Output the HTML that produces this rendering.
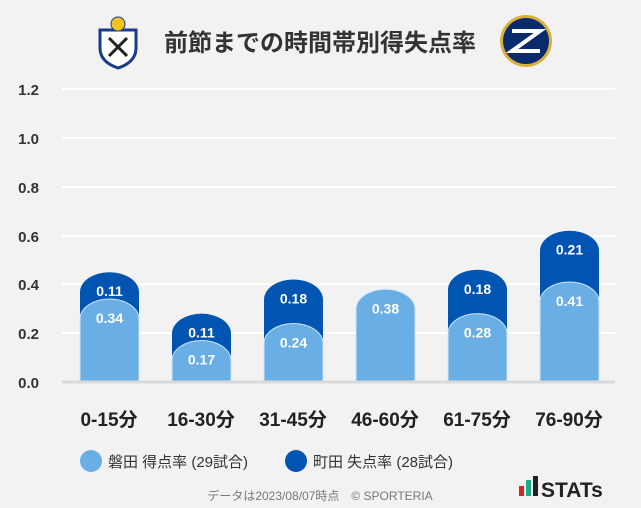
<!DOCTYPE html>
<html><head><meta charset="utf-8"><style>
html,body{margin:0;padding:0;background:#f2f2f2;}
svg{display:block;font-family:"Liberation Sans","Noto Sans CJK JP",sans-serif;}
</style></head><body>
<svg width="641" height="508" viewBox="0 0 641 508">
<rect width="641" height="508" fill="#f2f2f2"/>
<g stroke="#fff" stroke-width="2">
<line x1="62" x2="615" y1="89" y2="89"/>
<line x1="62" x2="615" y1="138" y2="138"/>
<line x1="62" x2="615" y1="187" y2="187"/>
<line x1="62" x2="615" y1="236" y2="236"/>
<line x1="62" x2="615" y1="284" y2="284"/>
<line x1="62" x2="615" y1="333" y2="333"/>
</g>
<g font-size="15" font-weight="bold" fill="#333" text-anchor="end">
<text x="39" y="95">1.2</text><text x="39" y="144">1.0</text><text x="39" y="193">0.8</text>
<text x="39" y="242">0.6</text><text x="39" y="290">0.4</text><text x="39" y="339">0.2</text><text x="39" y="388">0.0</text>
</g>
<g id="bars"></g>
<line x1="62" x2="615" y1="382" y2="382" stroke="#d9d9d9" stroke-width="3"/>
<g font-size="19" font-weight="bold" fill="#222" text-anchor="middle">
<text x="109" y="426">0-15分</text><text x="201" y="426">16-30分</text><text x="293" y="426">31-45分</text>
<text x="385" y="426">46-60分</text><text x="477" y="426">61-75分</text><text x="569" y="426">76-90分</text>
</g>
<circle cx="91" cy="461" r="11" fill="#6aaee6"/>
<text x="108" y="467" font-size="15" fill="#333">磐田 得点率 (29試合)</text>
<circle cx="296" cy="461" r="11" fill="#0055b3"/>
<text x="313" y="467" font-size="15" fill="#333">町田 失点率 (28試合)</text>
<text x="320" y="500" font-size="12" fill="#777" text-anchor="middle">データは2023/08/07時点　© SPORTERIA</text>
<rect x="519" y="486" width="5" height="10" fill="#d22"/><rect x="526" y="480" width="5" height="16" fill="#2a8"/><rect x="533" y="476" width="5" height="20" fill="#222"/>
<text x="541" y="497" font-size="21" font-weight="bold" fill="#222">STATs</text>
<text x="320" y="51" font-size="24" font-weight="bold" fill="#333" text-anchor="middle">前節までの時間帯別得失点率</text>
<g transform="translate(118,42)">
<path d="M-18,-12 L18,-12 L18,6 Q18,20 0,26 Q-18,20 -18,6Z" fill="#fff" stroke="#1b3a8a" stroke-width="3"/>
<circle cx="0" cy="-18" r="7" fill="#f0c419" stroke="#1b3a8a"/>
<path d="M-9,-4 L9,14 M9,-4 L-9,14" stroke="#222" stroke-width="3"/>
</g>
<g transform="translate(526,41)">
<circle r="26" fill="#d9b13a"/><circle r="23" fill="#0a2a6e"/>
<path d="M-14,-10 L14,-10 L-14,10 L14,10" stroke="#fff" stroke-width="4" fill="none"/>
</g>
</svg>
<script>
var d=[[0.34,0.11],[0.17,0.11],[0.24,0.18],[0.38,0],[0.28,0.18],[0.41,0.21]];
var g=document.getElementById('bars'),s='';
function p(x,top,ry){return 'M'+x+',382 L'+x+','+(top+ry)+' A29.5,'+ry+' 0 0 1 '+(x+59)+','+(top+ry)+' L'+(x+59)+',382Z';}
d.forEach(function(v,i){var x=80+i*92,cx=x+29.5;
var lt=382-v[0]*244,tt=382-(v[0]+v[1])*244,ry=20;
if(v[1]>0){s+='<path d="'+p(x,tt,ry)+'" fill="#0055b3"/>';
s+='<text x="'+cx+'" y="'+(tt+24)+'" font-size="14" font-weight="bold" fill="#fff" text-anchor="middle">'+v[1].toFixed(2)+'</text>';}
s+='<path d="'+p(x,lt,ry)+'" fill="#6aaee6" stroke="#cfe4f7" stroke-width="1"/>';
s+='<text x="'+cx+'" y="'+(lt+24)+'" font-size="14" font-weight="bold" fill="#fff" text-anchor="middle">'+v[0].toFixed(2)+'</text>';});
g.innerHTML=s;
</script>
</body></html>
